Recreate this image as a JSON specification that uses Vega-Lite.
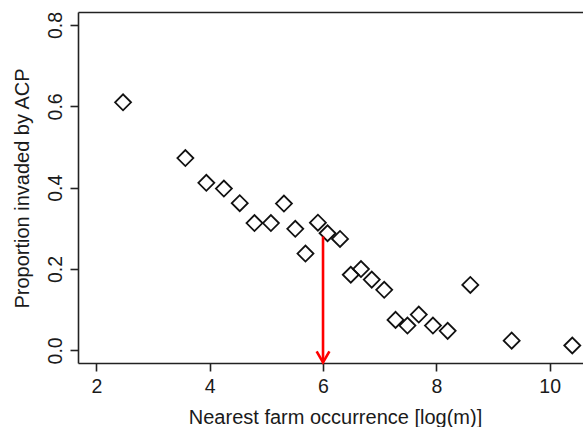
{
  "$schema": "https://vega.github.io/schema/vega-lite/v6.json",
  "autosize": "none",
  "padding": {"left": 78, "top": 12, "right": 0, "bottom": 64},
  "width": 505,
  "height": 351,
  "background": "white",
  "config": {
    "view": {"stroke": null},
    "font": "Liberation Sans",
    "axis": {
      "domainColor": "#222222",
      "domainWidth": 1.6,
      "tickColor": "#222222",
      "tickWidth": 1.6,
      "tickSize": 8,
      "grid": false,
      "labelFont": "Liberation Sans",
      "labelFontSize": 19.5,
      "labelColor": "#1a1a1a",
      "titleFont": "Liberation Sans",
      "titleFontSize": 20,
      "titleFontWeight": "normal",
      "titleColor": "#1a1a1a"
    }
  },
  "datasets": {
    "pts": [
      {"dist": 2.47, "prop": 0.610},
      {"dist": 3.57, "prop": 0.473},
      {"dist": 3.94, "prop": 0.412},
      {"dist": 4.25, "prop": 0.398},
      {"dist": 4.53, "prop": 0.362},
      {"dist": 4.79, "prop": 0.313},
      {"dist": 5.08, "prop": 0.313},
      {"dist": 5.31, "prop": 0.361},
      {"dist": 5.51, "prop": 0.299},
      {"dist": 5.69, "prop": 0.238},
      {"dist": 5.91, "prop": 0.314},
      {"dist": 6.08, "prop": 0.288},
      {"dist": 6.30, "prop": 0.274},
      {"dist": 6.49, "prop": 0.186},
      {"dist": 6.67, "prop": 0.200},
      {"dist": 6.86, "prop": 0.174},
      {"dist": 7.08, "prop": 0.149},
      {"dist": 7.28, "prop": 0.075},
      {"dist": 7.49, "prop": 0.061},
      {"dist": 7.69, "prop": 0.088},
      {"dist": 7.94, "prop": 0.061},
      {"dist": 8.20, "prop": 0.048},
      {"dist": 8.60, "prop": 0.161},
      {"dist": 9.33, "prop": 0.024},
      {"dist": 10.40, "prop": 0.012}
    ],
    "arrow": [
      {"dist": 6, "from": 0.280, "to": -0.0295}
    ]
  },
  "resolve": {"axis": {"x": "independent"}},
  "layer": [
    {
      "data": {"name": "pts"},
      "mark": {"type": "point", "shape": "diamond", "size": 256, "filled": false, "stroke": "#111111", "strokeWidth": 1.8, "opacity": 1},
      "encoding": {
        "x": {
          "field": "dist", "type": "quantitative",
          "scale": {"domain": [1.675, 10.589], "nice": false, "zero": false},
          "axis": {"values": [2, 4, 6, 8, 10], "title": "Nearest farm occurrence [log(m)]", "labelPadding": 6, "titleX": 257, "titleY": 60, "titleAlign": "center", "titleBaseline": "alphabetic", "labelFlush": false, "labelOverlap": false}
        },
        "y": {
          "field": "prop", "type": "quantitative",
          "scale": {"domain": [-0.031, 0.832], "nice": false, "zero": false},
          "axis": {"values": [0, 0.2, 0.4, 0.6, 0.8], "format": ".1f", "title": "Proportion invaded by ACP", "labelAngle": -90, "labelAlign": "center", "labelBaseline": "alphabetic", "labelPadding": 9, "titleX": -50, "titleY": 176, "titleAngle": -90, "titleAlign": "center", "titleBaseline": "alphabetic", "labelFlush": false, "labelOverlap": false}
        }
      }
    },
    {
      "data": {"name": "arrow"},
      "mark": {"type": "rule", "color": "#ff0000", "strokeWidth": 2.6},
      "encoding": {
        "x": {"field": "dist", "type": "quantitative", "axis": null},
        "y": {"field": "from", "type": "quantitative"},
        "y2": {"field": "to"}
      }
    },
    {
      "data": {"name": "arrow"},
      "mark": {"type": "point", "shape": "M-0.58,-1L0,0L0.58,-1", "size": 484, "filled": false, "stroke": "#ff0000", "strokeWidth": 2.6, "opacity": 1},
      "encoding": {
        "x": {
          "field": "dist", "type": "quantitative",
          "axis": {"orient": "top", "labels": false, "ticks": false, "title": null, "domain": true}
        },
        "y": {"field": "to", "type": "quantitative"}
      }
    }
  ]
}
